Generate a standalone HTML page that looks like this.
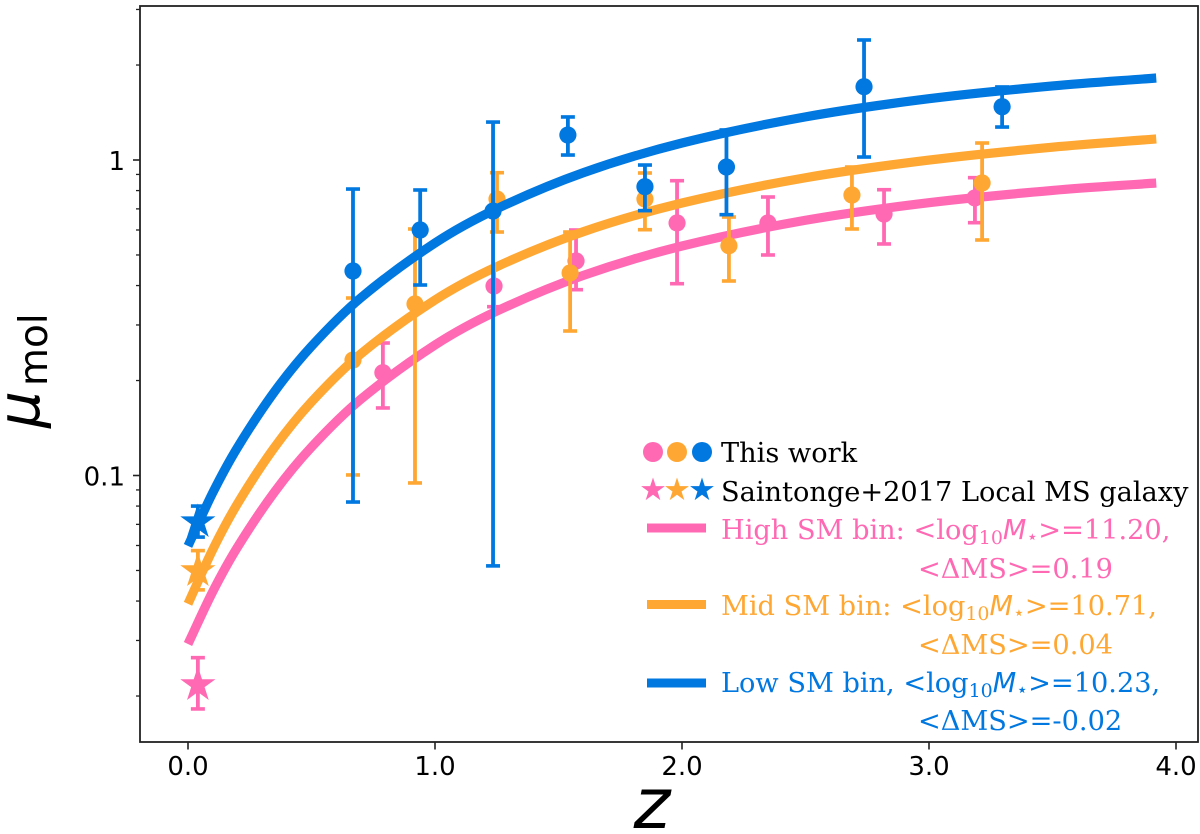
<!DOCTYPE html>
<html lang="en">
<head>
<meta charset="utf-8">
<title>Molecular gas ratio versus redshift</title>
<style>
html,body{margin:0;padding:0;background:#fff;}
svg{display:block;}
.tick{font-family:"DejaVu Sans",sans-serif;font-size:26px;fill:#000;}
.lg{font-family:"DejaVu Serif",serif;font-size:27.2px;}
.m{font-family:"DejaVu Sans",sans-serif;font-style:italic;}
</style>
</head>
<body>
<svg id="chart" xmlns="http://www.w3.org/2000/svg" width="1200" height="834" viewBox="0 0 1200 834">
<rect x="0" y="0" width="1200" height="834" fill="#fff"/>
<g id="series"></g>
<g id="axes">
<rect x="140" y="6" width="1058" height="736" fill="none" stroke="#222" stroke-width="1.8"/>
</g>
<text x="652" y="828" text-anchor="middle" font-family="DejaVu Sans, sans-serif" font-style="italic" font-size="70">z</text>
<g font-family="DejaVu Sans, sans-serif">
<text transform="translate(39,428) rotate(-90)" font-style="italic" font-size="58">μ</text>
<text transform="translate(47,386) rotate(-90)" font-size="39">mol</text>
</g>
<g id="legend">
<g>
<circle cx="653" cy="452" r="10" fill="#FF69B4"/><circle cx="677" cy="452" r="10" fill="#FFA733"/><circle cx="702" cy="452" r="10" fill="#0078E0"/>
<text class="lg" x="721" y="462" fill="#000">This work</text>
</g>
<g>
<polygon id="ls0" fill="#FF69B4"/><polygon id="ls1" fill="#FFA733"/><polygon id="ls2" fill="#0078E0"/>
<text class="lg" x="721" y="501" fill="#000">Saintonge+2017 Local MS galaxy</text>
</g>
<g fill="#FF69B4">
<rect x="647" y="523.5" width="59" height="9"/>
<text class="lg" x="721" y="539">High SM bin: &lt;log<tspan font-size="19" dy="5">10</tspan><tspan class="m" dy="-5">M</tspan><tspan font-size="19" dy="4">⋆</tspan><tspan dy="-4">&gt;=11.20,</tspan></text>
<text class="lg" x="918" y="578">&lt;ΔMS&gt;=0.19</text>
</g>
<g fill="#FFA733">
<rect x="647" y="600" width="59" height="9"/>
<text class="lg" x="721" y="615">Mid SM bin: &lt;log<tspan font-size="19" dy="5">10</tspan><tspan class="m" dy="-5">M</tspan><tspan font-size="19" dy="4">⋆</tspan><tspan dy="-4">&gt;=10.71,</tspan></text>
<text class="lg" x="918" y="654">&lt;ΔMS&gt;=0.04</text>
</g>
<g fill="#0078E0">
<rect x="647" y="678.5" width="59" height="9"/>
<text class="lg" x="721" y="692">Low SM bin, &lt;log<tspan font-size="19" dy="5">10</tspan><tspan class="m" dy="-5">M</tspan><tspan font-size="19" dy="4">⋆</tspan><tspan dy="-4">&gt;=10.23,</tspan></text>
<text class="lg" x="918" y="730">&lt;ΔMS&gt;=-0.02</text>
</g>
</g>
</svg>
<script>
var xTickValues = [0, 1, 2, 3, 4];
var xTickLabels = ["0.0", "1.0", "2.0", "3.0", "4.0"];
var yMajorValues = [1, 0.1];
var yMajorLabels = ["1", "0.1"];
var yMinorValues = [0.02, 0.03, 0.04, 0.05, 0.06, 0.07, 0.08, 0.09, 0.2, 0.3, 0.4, 0.5, 0.6, 0.7, 0.8, 0.9, 2, 3];

var curveZ = [0, 0.1, 0.2, 0.35, 0.5, 0.7, 1, 1.25, 1.6, 2, 2.5, 3, 3.5, 3.92];
var curvePink = [0.02924, 0.04281, 0.0592, 0.0886, 0.1230, 0.1745, 0.2592, 0.3319, 0.4306, 0.5338, 0.6442, 0.7324, 0.8009, 0.8455];
var curveOrange = [0.0392, 0.0582, 0.0813, 0.1227, 0.1711, 0.2431, 0.360, 0.4591, 0.5925, 0.7306, 0.8786, 0.9995, 1.098, 1.166];
var curveBlue = [0.0598, 0.0881, 0.1225, 0.1843, 0.2569, 0.3660, 0.5457, 0.7003, 0.9112, 1.132, 1.370, 1.564, 1.717, 1.819];

var pinkZ = [0.789, 1.239, 1.571, 1.98, 2.348, 2.818, 3.186];
var pinkMu = [0.2118, 0.3986, 0.4785, 0.6315, 0.6315, 0.6743, 0.758];
var pinkHigh = [0.263, 0.4547, 0.600, 0.8597, 0.7634, 0.805, 0.879];
var pinkLow = [0.1637, 0.3428, 0.3881, 0.4054, 0.5, 0.5418, 0.6328];

var orangeZ = [0.668, 0.919, 1.251, 1.547, 1.85, 2.19, 2.688, 3.215];
var orangeMu = [0.2323, 0.3497, 0.752, 0.4385, 0.752, 0.5349, 0.7744, 0.8455];
var orangeHigh = [0.3652, 0.6044, 0.9115, 0.5912, 0.9095, 0.6596, 0.950, 1.132];
var orangeLow = [0.1004, 0.0947, 0.5912, 0.2871, 0.6013, 0.4135, 0.6044, 0.5578];

var blueZ = [0.668, 0.94, 1.235, 1.538, 1.85, 2.18, 2.737, 3.296];
var blueMu = [0.4448, 0.600, 0.689, 1.200, 0.823, 0.950, 1.707, 1.475];
var blueHigh = [0.809, 0.8034, 1.319, 1.369, 0.964, 1.245, 2.401, 1.704];
var blueLow = [0.0824, 0.4016, 0.0517, 1.037, 0.691, 0.671, 1.022, 1.272];

var starZ = [0.04];
var starPink = [0.02168];
var starPinkHigh = [0.02646];
var starPinkLow = [0.0182];
var starOrange = [0.0498];
var starOrangeHigh = [0.0578];
var starOrangeLow = [0.0434];
var starBlue = [0.0712];
var starBlueHigh = [0.0800];
var starBlueLow = [0.0638];

var NS = "http://www.w3.org/2000/svg";
var PINK = "#FF69B4", ORANGE = "#FFA733", BLUE = "#0078E0";
function xScale(z) { return 188 + z * 247; }
function yScale(v) { return 160 - Math.log10(v) * 315.5; }
function make(tag, attrs, parent) {
  var el = document.createElementNS(NS, tag);
  for (var k in attrs) el.setAttribute(k, attrs[k]);
  parent.appendChild(el);
  return el;
}
function starPoints(cx, cy, R) {
  var pts = [], r = R * 0.382;
  for (var i = 0; i < 10; i++) {
    var a = -Math.PI / 2 + i * Math.PI / 5, q = i % 2 ? r : R;
    pts.push((cx + q * Math.cos(a)).toFixed(2) + "," + (cy + q * Math.sin(a)).toFixed(2));
  }
  return pts.join(" ");
}
function curvePath(zs, vs) {
  var xs = zs.map(xScale), ys = vs.map(yScale), n = xs.length, m = [], i;
  for (i = 0; i < n; i++) {
    if (i === 0) m[i] = (ys[1] - ys[0]) / (xs[1] - xs[0]);
    else if (i === n - 1) m[i] = (ys[n - 1] - ys[n - 2]) / (xs[n - 1] - xs[n - 2]);
    else m[i] = (ys[i + 1] - ys[i - 1]) / (xs[i + 1] - xs[i - 1]);
  }
  var d = "M" + xs[0].toFixed(2) + " " + ys[0].toFixed(2);
  for (i = 0; i < n - 1; i++) {
    var h = (xs[i + 1] - xs[i]) / 3;
    d += "C" + (xs[i] + h).toFixed(2) + " " + (ys[i] + m[i] * h).toFixed(2) + " " +
      (xs[i + 1] - h).toFixed(2) + " " + (ys[i + 1] - m[i + 1] * h).toFixed(2) + " " +
      xs[i + 1].toFixed(2) + " " + ys[i + 1].toFixed(2);
  }
  return d;
}
function drawBars(layer, zs, lows, highs, color, sw) {
  for (var i = 0; i < zs.length; i++) {
    var x = xScale(zs[i]), y1 = yScale(highs[i]), y2 = yScale(lows[i]);
    var bar = make("line", { x1: x, x2: x, y1: y1, y2: y2, stroke: color, "stroke-width": sw }, layer);
    
    
    var top = make("line", { x1: x - 7, x2: x + 7, y1: y1, y2: y1, stroke: color, "stroke-width": 3.6 }, layer);
    
    
    var bot = make("line", { x1: x - 7, x2: x + 7, y1: y2, y2: y2, stroke: color, "stroke-width": 3.6 }, layer);
    
    
  }
}
function drawGroup(zs, mus, lows, highs, cz, cv, color, sz, sv, sl, sh) {
  var layer = document.getElementById("series");
  drawBars(layer, zs, lows, highs, color, 3.8);
  for (var i = 0; i < zs.length; i++) {
    var dot = make("circle", { cx: xScale(zs[i]), cy: yScale(mus[i]), r: 8.6, fill: color }, layer);
    
    
  }
  var curve = make("path", { d: curvePath(cz, cv), fill: "none", stroke: color, "stroke-width": 9.2 }, layer);
  
  
  drawBars(layer, sz, sl, sh, color, 3.8);
  for (var j = 0; j < sz.length; j++) {
    var star = make("polygon", { points: starPoints(xScale(sz[j]), yScale(sv[j]), 18.5), fill: color }, layer);
    
    
  }
}
drawGroup(pinkZ, pinkMu, pinkLow, pinkHigh, curveZ, curvePink, PINK, starZ, starPink, starPinkLow, starPinkHigh);
drawGroup(orangeZ, orangeMu, orangeLow, orangeHigh, curveZ, curveOrange, ORANGE, starZ, starOrange, starOrangeLow, starOrangeHigh);
drawGroup(blueZ, blueMu, blueLow, blueHigh, curveZ, curveBlue, BLUE, starZ, starBlue, starBlueLow, starBlueHigh);

var axes = document.getElementById("axes");
xTickValues.forEach(function (v, i) {
  var x = xScale(v);
  var t = make("line", { x1: x, x2: x, y1: 742, y2: 749.5, stroke: "#222", "stroke-width": 1.6 }, axes);
  
  
  var l = make("text", { x: x, y: 775, "text-anchor": "middle", "class": "tick" }, axes);
  l.textContent = xTickLabels[i];
  
  
});
yMajorValues.forEach(function (v, i) {
  var y = yScale(v);
  var t = make("line", { x1: 133, x2: 140, y1: y, y2: y, stroke: "#222", "stroke-width": 1.6 }, axes);
  
  
  var l = make("text", { x: 125, y: y + 10, "text-anchor": "end", "class": "tick" }, axes);
  l.textContent = yMajorLabels[i];
  
  
});
yMinorValues.forEach(function (v) {
  var y = yScale(v);
  var t = make("line", { x1: 136, x2: 140, y1: y, y2: y, stroke: "#222", "stroke-width": 1.3 }, axes);
  
  
});
document.getElementById("ls0").setAttribute("points", starPoints(653, 490, 12.5));
document.getElementById("ls1").setAttribute("points", starPoints(677, 490, 12.5));
document.getElementById("ls2").setAttribute("points", starPoints(702, 490, 12.5));
</script>
</body>
</html>
